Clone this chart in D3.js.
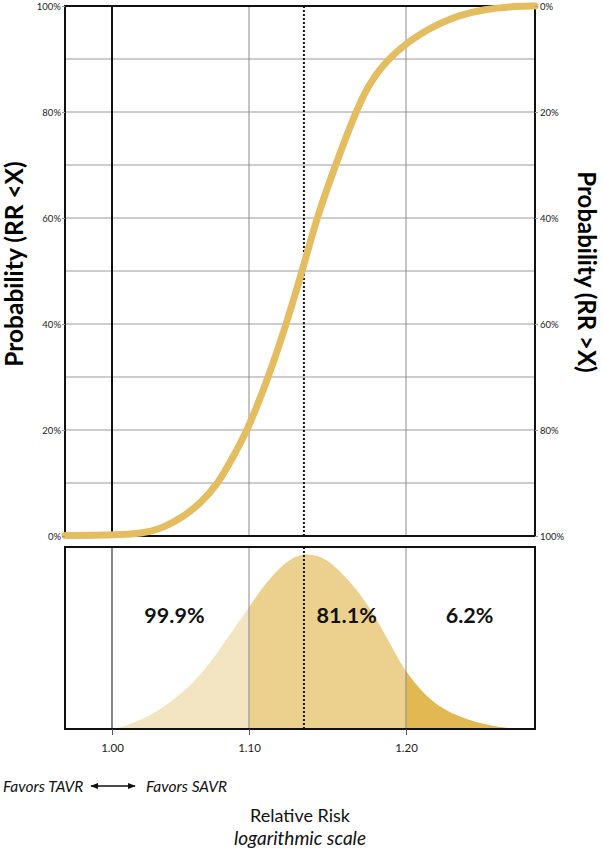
<!DOCTYPE html>
<html>
<head>
<meta charset="utf-8">
<script src="https://cdn.jsdelivr.net/npm/d3@7"></script>
<style>
  body { margin: 0; background: #fff; }
  svg { display: block; font-family: Lato, "Open Sans", sans-serif; }
</style>
</head>
<body>
<div id="chart"></div>
<script>
// Cumulative probability curve (RR vs P(RR < X), %)
const cdfRR  = [0.968, 1.000, 1.013, 1.027, 1.038, 1.050, 1.063, 1.077, 1.088, 1.099, 1.112, 1.123, 1.133, 1.142, 1.154, 1.167, 1.175, 1.185, 1.196, 1.208, 1.221, 1.236, 1.254, 1.271, 1.289];
const cdfPct = [0.1,   0.2,   0.3,   0.8,   1.8,   3.5,   6,     10,    15,    20,    30,    40,    50,    60,    70,    80,    85,    89,    92,    94.5,  96.5,  98.3,  99.4,  99.9,  100];

// Posterior density (relative height, peak = 1)
const densRR  = [1.001, 1.011, 1.023, 1.034, 1.046, 1.058, 1.071, 1.083, 1.093, 1.100, 1.107, 1.117, 1.125, 1.134, 1.143, 1.149, 1.159, 1.170, 1.181, 1.191, 1.200, 1.214, 1.225, 1.236, 1.248, 1.259, 1.271, 1.278];
const densVal = [0,     0.022, 0.06,  0.11,  0.18,  0.26,  0.38,  0.51,  0.62,  0.69,  0.79,  0.90,  0.965, 1.0,   0.985, 0.96,  0.88,  0.77,  0.62,  0.46,  0.32,  0.18,  0.115, 0.07,  0.037, 0.017, 0.004, 0];

const tickRR = [1.00, 1.10, 1.20];
const yTicks = [0, 20, 40, 60, 80, 100];
const yGrid = [10, 20, 30, 40, 50, 60, 70, 80, 90];
const medianRR = 1.134;
const regionStart = [1.00, 1.10, 1.20];
const regionLabels = ['99.9%', '81.1%', '6.2%'];

const cdf = cdfRR.map((rr, i) => ({ rr, p: cdfPct[i] }));
const dens = densRR.map((rr, i) => ({ rr, v: densVal[i] }));

const W = 603, H = 852;
const left = 65, right = 535;
const top1 = 6, bot1 = 536;
const top2 = 547, bot2 = 729;

const svg = d3.select('#chart').append('svg')
    .attr('width', W)
    .attr('height', H);

// x axis as drawn in the figure (log, piecewise between the labelled ticks)
const x = d3.scaleLog()
    .domain([0.968, 1.0, 1.1, 1.2, 1.289])
    .range([left, 112, 249, 406, right]);

const y = d3.scaleLinear().domain([0, 100]).range([bot1, top1]);
const yRight = d3.scaleLinear().domain([100, 0]).range([bot1, top1]);
const yDen = d3.scaleLinear().domain([0, 1.035]).range([bot2, top2]);

// ---- Top panel ----
svg.append('g')
    .selectAll('line')
    .data(yGrid)
    .enter()
    .append('line')
    .attr('x1', left).attr('x2', right)
    .attr('y1', d => y(d)).attr('y2', d => y(d))
    .attr('stroke', '#9a9a9a')
    .attr('stroke-width', 1);

svg.append('g')
    .selectAll('line')
    .data(tickRR.slice(1))
    .enter()
    .append('line')
    .attr('x1', d => x(d)).attr('x2', d => x(d))
    .attr('y1', top1).attr('y2', bot1)
    .attr('stroke', '#8a8a8a')
    .attr('stroke-width', 1);

svg.append('line')
    .attr('x1', x(1.0)).attr('x2', x(1.0))
    .attr('y1', top1).attr('y2', bot1)
    .attr('stroke', '#111')
    .attr('stroke-width', 2);

svg.append('line')
    .attr('x1', x(medianRR)).attr('x2', x(medianRR))
    .attr('y1', top1).attr('y2', bot1)
    .attr('stroke', '#111')
    .attr('stroke-width', 2)
    .attr('stroke-dasharray', '2,2');

svg.append('rect')
    .attr('x', left).attr('y', top1)
    .attr('width', right - left).attr('height', bot1 - top1)
    .attr('fill', 'none')
    .attr('stroke', '#111')
    .attr('stroke-width', 2);

const line = d3.line()
    .x(d => x(d.rr))
    .y(d => y(d.p))
    .curve(d3.curveBasis);

svg.append('path')
    .datum(cdf)
    .attr('fill', 'none')
    .attr('stroke', '#e3bd60')
    .attr('stroke-width', 7)
    .attr('stroke-linecap', 'round')
    .attr('d', line);

// Axes (labels only)
const leftAxis = svg.append('g')
    .attr('transform', `translate(${left},0)`)
    .call(d3.axisLeft(y).tickValues(yTicks).tickFormat(d => d + '%').tickSize(3).tickPadding(1));
const rightAxis = svg.append('g')
    .attr('transform', `translate(${right},0)`)
    .call(d3.axisRight(yRight).tickValues(yTicks).tickFormat(d => d + '%').tickSize(3).tickPadding(2));
[leftAxis, rightAxis].forEach(a => {
    a.select('.domain').remove();
    a.selectAll('line').attr('stroke', '#9a9a9a');
    a.selectAll('text')
        .attr('fill', '#222')
        .style('font-family', 'Lato, sans-serif')
        .style('font-size', '9.5px');
});

svg.append('text')
    .attr('transform', `translate(23, 264) rotate(-90)`)
    .attr('text-anchor', 'middle')
    .attr('fill', '#000')
    .style('font-size', '24.5px')
    .style('font-weight', 'bold')
    .text('Probability (RR <X)');

svg.append('text')
    .attr('transform', `translate(578, 272) rotate(90)`)
    .attr('text-anchor', 'middle')
    .attr('fill', '#000')
    .style('font-size', '24px')
    .style('font-weight', 'bold')
    .text('Probability (RR >X)');

// ---- Bottom panel ----
const defs = svg.append('defs');
const regionColors = ['#f3e5c2', '#ebd08e', '#e2b852'];
regionStart.forEach((r0, i) => {
    const r1 = i < regionStart.length - 1 ? regionStart[i + 1] : x.domain()[x.domain().length - 1];
    defs.append('clipPath')
        .attr('id', `reg${i}`)
        .append('rect')
        .attr('x', x(r0)).attr('y', top2)
        .attr('width', x(r1) - x(r0)).attr('height', bot2 - top2);
});

const area = d3.area()
    .x(d => x(d.rr))
    .y0(bot2)
    .y1(d => yDen(d.v))
    .curve(d3.curveBasis);

regionStart.forEach((r0, i) => {
    svg.append('path')
        .datum(dens)
        .attr('clip-path', `url(#reg${i})`)
        .attr('fill', regionColors[i])
        .attr('d', area);
});

svg.append('g')
    .selectAll('line')
    .data(tickRR)
    .enter()
    .append('line')
    .attr('x1', d => x(d)).attr('x2', d => x(d))
    .attr('y1', top2).attr('y2', bot2)
    .attr('stroke', (d, i) => i === 0 ? '#555' : '#8a8a8a')
    .attr('stroke-width', (d, i) => i === 0 ? 1.4 : 1);

svg.append('line')
    .attr('x1', x(medianRR)).attr('x2', x(medianRR))
    .attr('y1', top2).attr('y2', bot2)
    .attr('stroke', '#111')
    .attr('stroke-width', 2)
    .attr('stroke-dasharray', '2,2');

svg.append('rect')
    .attr('x', left).attr('y', top2)
    .attr('width', right - left).attr('height', bot2 - top2)
    .attr('fill', 'none')
    .attr('stroke', '#111')
    .attr('stroke-width', 2);

// Region percentages
const labelRR = [1.0444, 1.1612, 1.2431];
svg.selectAll('.pct')
    .data(regionLabels)
    .enter()
    .append('text')
    .attr('class', 'pct')
    .attr('x', (d, i) => x(labelRR[i]))
    .attr('y', 623)
    .attr('text-anchor', 'middle')
    .attr('fill', '#111')
    .style('font-size', '21.5px')
    .style('font-weight', 'bold')
    .text(d => d);

const xAxis = svg.append('g')
    .attr('transform', `translate(0,${bot2})`)
    .call(d3.axisBottom(x).tickValues(tickRR).tickFormat(d3.format('.2f')).tickSize(6).tickPadding(9));
xAxis.select('.domain').remove();
xAxis.selectAll('line').attr('stroke', '#555');
xAxis.selectAll('text')
    .attr('fill', '#222')
    .style('font-family', 'Lato, sans-serif')
    .style('font-size', '11.5px');

// Favors arrow
defs.append('marker')
    .attr('id', 'arrow')
    .attr('viewBox', '0 0 10 10')
    .attr('refX', 9).attr('refY', 5)
    .attr('markerWidth', 6).attr('markerHeight', 6)
    .attr('orient', 'auto-start-reverse')
    .append('path')
    .attr('d', 'M0,1 L10,5 L0,9 Z')
    .attr('fill', '#111');

svg.append('text')
    .attr('x', 3).attr('y', 792)
    .attr('fill', '#111')
    .style('font-size', '15.5px')
    .style('font-style', 'italic')
    .text('Favors TAVR');

svg.append('line')
    .attr('x1', 91).attr('x2', 135)
    .attr('y1', 786).attr('y2', 786)
    .attr('stroke', '#111')
    .attr('stroke-width', 1.3)
    .attr('marker-start', 'url(#arrow)')
    .attr('marker-end', 'url(#arrow)');

svg.append('text')
    .attr('x', 146).attr('y', 792)
    .attr('fill', '#111')
    .style('font-size', '15.5px')
    .style('font-style', 'italic')
    .text('Favors SAVR');

svg.append('text')
    .attr('x', (left + right) / 2).attr('y', 822)
    .attr('text-anchor', 'middle')
    .attr('fill', '#111')
    .style('font-size', '18px')
    .text('Relative Risk');

svg.append('text')
    .attr('x', (left + right) / 2).attr('y', 845)
    .attr('text-anchor', 'middle')
    .attr('fill', '#111')
    .style('font-size', '19px')
    .style('font-style', 'italic')
    .text('logarithmic scale');
</script>
</body>
</html>
